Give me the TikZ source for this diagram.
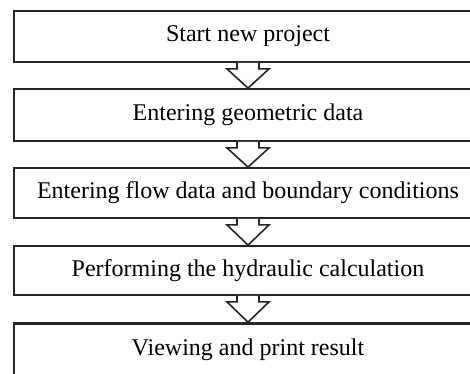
\documentclass[tikz,border=0pt]{standalone}
\usepackage{fontspec}
\setmainfont{Liberation Serif}
\usetikzlibrary{calc}
\begin{document}
\begin{tikzpicture}[x=1pt,y=-1pt,
  stepbox/.style={draw=black!85, line width=1.8pt, minimum width=468pt, inner sep=0pt, font=\fontsize{24}{28}\selectfont},
  flowarrow/.style={draw=black!85, line width=1.6pt, fill=white, line join=miter}]
\useasboundingbox (0,0) rectangle (470,373);
\begin{scope}
\clip (0,0) rectangle (470,373);
\node[stepbox, minimum height=51pt] (b1) at (248,36.5) {Start new project};
\node[stepbox, minimum height=52pt] (b2) at (248,115) {Entering geometric data};
\node[stepbox, minimum height=50pt] (b3) at (248,193) {Entering flow data and boundary conditions};
\node[stepbox, minimum height=49pt] (b4) at (248,270.5) {Performing the hydraulic calculation};
\node[stepbox, line width=2.6pt, minimum height=52pt] (b5) at (248,349.5) {Viewing and print result};
\foreach \a/\b in {b1/b2,b2/b3,b3/b4,b4/b5}{
  \draw[flowarrow] ($(\a.south)+(-11,0)$) -- ++(0,6) -- ++(-10,0) -- (\b.north) -- ($(\a.south)+(21,6)$) -- ++(-10,0) -- ($(\a.south)+(11,0)$);
}
\end{scope}
\end{tikzpicture}
\end{document}
